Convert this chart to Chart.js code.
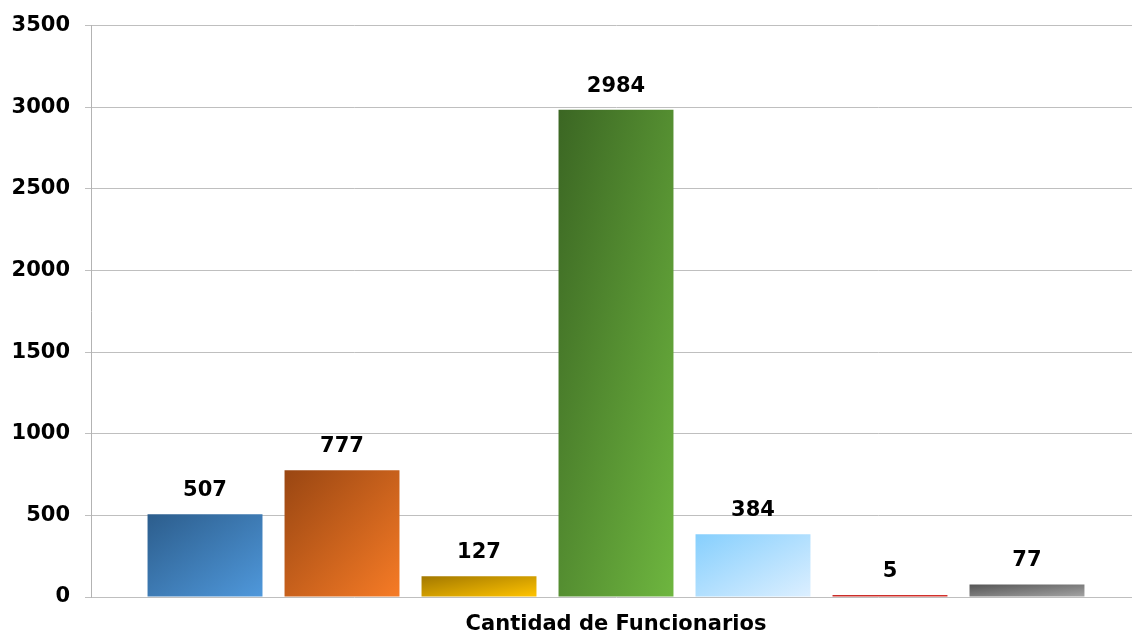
<!DOCTYPE html>
<html>
<head>
<meta charset="utf-8">
<script src="https://cdn.jsdelivr.net/npm/chart.js@4.4.1/dist/chart.umd.min.js"></script>
<style>
  html, body { margin: 0; padding: 0; background: #fff; overflow: hidden; }
  #wrap { width: 1141px; height: 637px; }
</style>
</head>
<body>
<div id="wrap"><canvas id="chart"></canvas></div>
<script>
// datos
const categorias = ['Cantidad de Funcionarios'];
const series = ['Serie 1', 'Serie 2', 'Serie 3', 'Serie 4', 'Serie 5', 'Serie 6', 'Serie 7'];
const valores = [507, 777, 127, 2984, 384, 5, 77];
const yTicks = [0, 500, 1000, 1500, 2000, 2500, 3000, 3500];

// colores del degradado: arriba-izquierda -> abajo-derecha
const colores = [
    ['#2c5d8c', '#4f98db'],
    ['#994612', '#f67b26'],
    ['#a27800', '#ffc300'],
    ['#3b6623', '#6eb63f'],
    ['#86cffd', '#dcefff'],
    ['#c62b27', '#d9342e'],
    ['#555555', '#a3a3a3']
];

const FONT = '"DejaVu Sans", Verdana, sans-serif';

// degradado diagonal escalado a la caja de la barra
function gradiente(ctx) {
    const chart = ctx.chart;
    const el = chart.getDatasetMeta(ctx.datasetIndex).data[ctx.dataIndex];
    const c = colores[ctx.datasetIndex];
    if (!el || !isFinite(el.y) || !isFinite(el.base) || !el.width) return c[1];
    const w = el.width, h = Math.max(Math.abs(el.base - el.y), 1);
    const x0 = el.x - w / 2, y0 = Math.min(el.y, el.base);
    const k = 2 * w * h / (w * w + h * h);
    const g = chart.ctx.createLinearGradient(x0, y0, x0 + h * k, y0 + w * k);
    g.addColorStop(0, c[0]);
    g.addColorStop(1, c[1]);
    return g;
}

// etiquetas encima de las barras
const etiquetas = {
    id: 'etiquetas',
    afterDatasetsDraw(chart) {
        const ctx = chart.ctx;
        ctx.save();
        ctx.font = 'bold 21px ' + FONT;
        ctx.fillStyle = '#000';
        ctx.textAlign = 'center';
        ctx.textBaseline = 'bottom';
        chart.data.datasets.forEach((ds, i) => {
            const el = chart.getDatasetMeta(i).data[0];
            ctx.fillText(String(ds.data[0]), el.x, el.y - 13);
        });
        ctx.restore();
    }
};

const datasets = series.map((s, i) => ({
    label: s,
    data: [valores[i]],
    backgroundColor: gradiente,
    borderWidth: 0,
    minBarLength: 2,
    categoryPercentage: 0.9133,
    barPercentage: 0.839
}));

const chart = new Chart(document.getElementById('chart'), {
    type: 'bar',
    data: { labels: categorias, datasets: datasets },
    plugins: [etiquetas],
    options: {
        responsive: true,
        maintainAspectRatio: false,
        animation: false,
        layout: { padding: { top: 4, right: 0, left: 0, bottom: 0 } },
        plugins: {
            legend: { display: false },
            tooltip: { enabled: false }
        },
        scales: {
            x: {
                grid: { display: false, drawTicks: false },
                border: { display: false },
                ticks: {
                    color: '#000',
                    padding: 15,
                    font: { family: FONT, size: 21, weight: 'bold' }
                },
                afterFit(scale) { scale.height = 40; }
            },
            y: {
                min: 0,
                max: 3500,
                afterBuildTicks(scale) { scale.ticks = yTicks.map(v => ({ value: v })); },
                grid: { color: '#bfbfbf', lineWidth: 1, tickLength: 6 },
                border: { color: '#b3b3b3' },
                ticks: {
                    color: '#000',
                    padding: 15,
                    font: { family: FONT, size: 21, weight: 'bold', lineHeight: 1 },
                    callback: v => String(v)
                },
                afterFit(scale) { scale.width = 91; }
            }
        }
    }
});
// segunda pasada: los elementos ya tienen posicion para el degradado
chart.update();
</script>
</body>
</html>
